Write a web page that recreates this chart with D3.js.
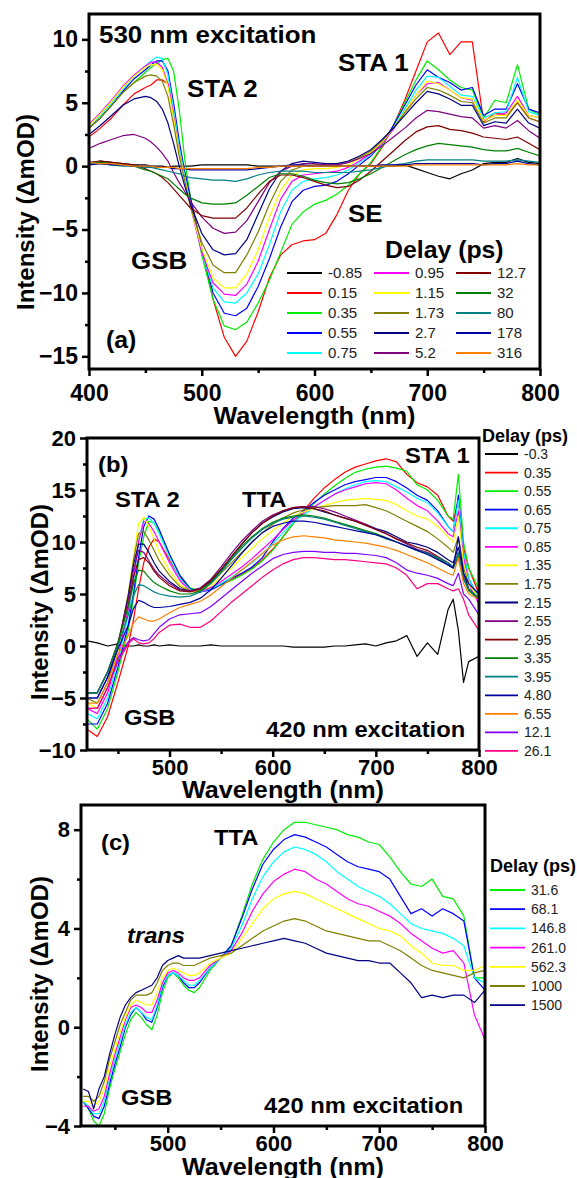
<!DOCTYPE html>
<html>
<head>
<meta charset="utf-8">
<script src="https://cdn.jsdelivr.net/npm/d3@7"></script>
<style>
  body { margin: 0; background: #fff; }
  svg { display: block; }
</style>
</head>
<body>
<script>
// ---- panel (a): 530 nm excitation ----
const wlA = [400, 410, 420, 430, 440, 450, 455, 460, 465, 470, 475, 480, 485, 490,
  500, 510, 520, 530, 540, 550, 560, 570, 580, 590, 600, 610, 620, 630, 640, 650,
  660, 670, 680, 690, 700, 710, 720, 730, 740, 750, 760, 770, 780, 790, 800];
const delaysA = ["-0.85", "0.15", "0.35", "0.55", "0.75", "0.95", "1.15", "1.73",
  "2.7", "5.2", "12.7", "32", "80", "178", "316"];
const colorsA = ["#000000", "#ff0000", "#00ee00", "#0000ff", "#00ffff", "#ff00ff", "#ffff00", "#808000",
  "#000080", "#800080", "#800000", "#008000", "#008080", "#0000a0", "#ff8000"];
const spectraA = [
  [0.2, 0.4, 0.3, 0.2, 0.1, 0.1, 0, 0, 0, -0.1, 0, 0, 0, 0,
    0.1, 0.1, 0.1, 0.1, 0.1, 0, 0, 0, 0, 0, 0, 0, 0, 0, 0, 0, 0, 0, 0.1, -0.2, -0.5, -0.8, -1.0, -0.6, -0.3, 0.2, 0.3, 0.3, 0.6, 0.3, 0.2],
  [2.3, 3.0, 3.8, 4.8, 5.7, 6.2, 6.4, 6.8, 6.8, 6.5, 4.5, 1.5, -0.5, -2.5,
    -6.5, -10.5, -13.5, -15.0, -13.8, -11.5, -8.8, -7.0, -6.2, -5.9, -5.8, -5.3, -3.8, -1.9, -0.6, 0.2, 1.5, 3.2, 5.2, 7.5, 9.8, 10.5, 8.8, 9.8, 9.8, 3.5, 4.2, 4.0, 5.0, 3.8, 3.5],
  [3.0, 3.8, 4.8, 5.8, 6.6, 7.4, 7.8, 8.1, 8.4, 8.5, 7.5, 4.5, 0.5, -2.5,
    -7.0, -10.5, -12.6, -12.9, -12.3, -10.8, -9.0, -6.8, -4.6, -3.6, -3.0, -2.7, -2.2, -1.5, -0.6, 0.3, 1.6, 3.2, 5.0, 6.8, 8.3, 7.6, 6.8, 6.2, 6.0, 3.8, 5.2, 5.0, 8.0, 4.5, 4.0],
  [3.0, 3.8, 4.8, 5.9, 6.9, 7.6, 8.0, 8.3, 8.3, 7.5, 5.0, 2.0, -0.5, -2.5,
    -6.5, -10.0, -11.6, -11.8, -11.2, -9.5, -7.3, -4.8, -2.8, -1.9, -1.6, -1.5, -1.2, -0.6, 0.1, 0.8, 1.8, 3.2, 4.8, 6.4, 7.6, 7.0, 6.6, 6.0, 6.2, 4.0, 4.5, 4.5, 6.5, 4.5, 4.2],
  [3.2, 4.0, 5.0, 6.1, 7.1, 7.9, 8.3, 8.6, 8.5, 7.2, 4.5, 1.5, -0.8, -3.0,
    -6.8, -9.6, -10.7, -10.8, -10.0, -8.5, -6.2, -3.6, -1.9, -1.2, -1.0, -0.9, -0.7, -0.3, 0.3, 0.9, 1.8, 3.0, 4.5, 6.0, 7.1, 7.0, 6.3, 5.6, 5.5, 3.8, 4.2, 4.3, 7.0, 4.3, 4.0],
  [3.3, 4.2, 5.2, 6.3, 7.2, 7.9, 8.2, 8.2, 7.8, 6.5, 4.0, 1.0, -1.0, -3.2,
    -6.8, -9.2, -10.1, -10.2, -9.3, -7.5, -5.0, -2.6, -1.2, -0.7, -0.6, -0.5, -0.4, -0.1, 0.4, 1.0, 1.8, 2.9, 4.3, 5.6, 6.5, 6.6, 6.0, 5.4, 5.2, 3.6, 4.0, 4.2, 5.5, 4.0, 3.8],
  [3.2, 4.1, 5.1, 6.2, 7.1, 7.8, 8.0, 8.0, 7.6, 6.3, 3.8, 1.0, -1.0, -3.2,
    -6.5, -8.8, -9.6, -9.6, -8.5, -6.6, -4.0, -1.9, -0.7, -0.3, -0.2, -0.2, -0.1, 0.1, 0.6, 1.1, 1.9, 3.0, 4.3, 5.6, 6.7, 6.5, 6.0, 5.4, 5.3, 3.6, 4.0, 4.0, 5.2, 4.0, 3.8],
  [3.0, 3.8, 4.8, 5.8, 6.6, 7.1, 7.2, 7.1, 6.7, 5.5, 3.3, 0.8, -1.2, -3.2,
    -6.0, -7.8, -8.4, -8.4, -7.0, -5.2, -3.0, -1.2, -0.3, 0.0, 0.1, 0.1, 0.1, 0.3, 0.7, 1.2, 2.0, 3.0, 4.2, 5.3, 6.2, 6.0, 5.6, 5.1, 5.0, 3.4, 3.8, 3.8, 5.0, 3.8, 3.5],
  [2.5, 3.2, 4.0, 4.8, 5.3, 5.5, 5.4, 5.1, 4.5, 3.4, 1.8, 0.0, -1.6, -3.0,
    -5.3, -6.6, -7.0, -6.9, -5.8, -3.8, -1.8, -0.4, 0.2, 0.4, 0.3, 0.2, 0.2, 0.4, 0.8, 1.3, 2.1, 3.0, 4.0, 5.0, 5.9, 5.7, 5.3, 4.8, 4.8, 3.2, 3.5, 3.4, 4.5, 3.4, 3.0],
  [1.4, 1.8, 2.1, 2.4, 2.5, 2.2, 1.9, 1.5, 1.0, 0.4, -0.5, -1.3, -2.0, -2.8,
    -4.0, -4.9, -5.3, -5.2, -4.3, -2.8, -1.3, -0.4, 0.0, 0.2, 0.2, 0.1, 0.1, 0.3, 0.6, 1.0, 1.6, 2.3, 3.0, 3.8, 4.4, 4.3, 4.1, 3.9, 3.8, 3.0, 3.2, 3.0, 3.6, 2.8, 2.2],
  [0.3, 0.4, 0.3, 0.2, 0.1, -0.2, -0.4, -0.6, -0.9, -1.3, -1.8, -2.3, -2.8, -3.3,
    -3.9, -4.1, -4.1, -4.1, -3.3, -2.2, -1.2, -0.7, -0.7, -0.9, -1.2, -1.5, -1.7, -1.6, -1.1, -0.4, 0.4, 1.2, 2.0, 2.7, 3.1, 3.2, 2.9, 2.8, 2.6, 2.3, 2.2, 2.1, 2.3, 1.8, 1.3],
  [0.3, 0.3, 0.2, 0.1, 0.0, -0.3, -0.4, -0.6, -0.8, -1.0, -1.4, -1.8, -2.2, -2.5,
    -2.9, -3.0, -3.0, -2.9, -2.3, -1.6, -0.9, -0.6, -0.6, -0.8, -1.1, -1.3, -1.4, -1.3, -1.0, -0.6, -0.1, 0.4, 0.9, 1.3, 1.6, 1.8, 1.7, 1.6, 1.5, 1.3, 1.2, 1.2, 1.4, 1.1, 0.8],
  [0.2, 0.2, 0.1, 0.0, 0.0, -0.1, -0.1, -0.2, -0.3, -0.4, -0.5, -0.6, -0.8, -0.9,
    -1.0, -1.1, -1.1, -1.2, -1.0, -0.7, -0.5, -0.4, -0.4, -0.4, -0.5, -0.5, -0.5, -0.5, -0.4, -0.3, -0.1, 0.1, 0.2, 0.4, 0.5, 0.5, 0.5, 0.5, 0.5, 0.4, 0.4, 0.4, 0.5, 0.4, 0.3],
  [0.1, 0.2, 0.1, 0.1, 0.0, 0.0, 0.0, -0.1, -0.1, -0.1, -0.2, -0.2, -0.2, -0.3,
    -0.3, -0.3, -0.3, -0.3, -0.3, -0.2, -0.1, 0.0, 0.1, 0.1, 0.0, 0.0, 0.0, 0.0, 0.0, 0.0, 0.1, 0.1, 0.1, 0.2, 0.2, 0.2, 0.2, 0.2, 0.2, 0.1, 0.2, 0.2, 0.4, 0.2, 0.1],
  [0.3, 0.2, 0.2, 0.1, 0.0, 0.0, 0.0, -0.1, -0.1, -0.1, -0.1, -0.2, -0.2, -0.2,
    -0.2, -0.2, -0.2, -0.2, -0.2, -0.1, -0.1, 0.0, 0.0, 0.0, 0.0, 0.0, 0.0, 0.0, 0.0, 0.0, 0.0, 0.0, 0.0, 0.1, 0.1, 0.1, 0.1, 0.1, 0.1, 0.1, 0.1, 0.1, 0.2, 0.1, 0.1]
];

// ---- panel (b): 420 nm excitation, early delays ----
const wlB = [420, 430, 440, 450, 460, 465, 470, 475, 480, 485, 490,
  500, 510, 520, 530, 540, 550, 560, 570, 580, 590, 600, 610, 620, 630, 640, 650, 660,
  670, 680, 690, 700, 710, 720, 730, 740, 750, 760, 770, 775, 780, 785, 790, 800];
const delaysB = ["-0.3", "0.35", "0.55", "0.65", "0.75", "0.85", "1.35", "1.75", "2.15",
  "2.55", "2.95", "3.35", "3.95", "4.80", "6.55", "12.1", "26.1"];
const colorsB = ["#000000", "#ff0000", "#00ee00", "#0000ff", "#00ffff", "#ff00ff", "#ffff00", "#808000", "#000080",
  "#800080", "#800000", "#008000", "#008080", "#0000a0", "#ff8000", "#8000ff", "#ff0080"];
const spectraB = [
  [0.5, 0.3, 0.0, 0.2, 0.0, 0.0, 0.1, 0.0, 0.0, 0.1, 0.0,
    0.1, 0.0, 0.0, 0.0, 0.1, 0.0, 0.0, 0.0, 0.0, 0.0, 0.0, 0.0, -0.1, -0.1, -0.1, -0.1, 0.0, 0.0, 0.1, 0.2, 0.0, 0.3, 0.5, 1.0, -1.0, 0.3, -0.8, 3.5,
    4.5, 1.5, -3.5, -1.5, -1.0],
  [-8.0, -8.7, -6.8, -3.5, 0.0, 2.5, 5.5, 8.0, 9.5, 10.3, 10.0,
    8.3, 6.6, 5.5, 5.3, 5.6, 6.0, 6.4, 6.9, 7.5, 8.3, 9.3, 10.5, 11.8, 13.0, 14.2, 15.2, 16.0, 16.7, 17.2, 17.5, 17.8, 18.0, 17.7, 16.5, 15.7, 15.3, 14.5, 12.5,
    12.0, 14.0, 9.5, 7.5, 5.0],
  [-7.0, -8.0, -6.0, -2.5, 1.5, 4.5, 8.0, 10.5, 12.0, 11.8, 11.0,
    8.8, 6.8, 5.6, 5.3, 5.5, 5.9, 6.3, 6.8, 7.4, 8.2, 9.2, 10.5, 11.8, 12.8, 13.7, 14.6, 15.4, 16.1, 16.7, 17.0, 17.2, 17.3, 17.1, 16.8, 15.5, 15.0, 14.0, 12.5,
    12.2, 16.5, 10.0, 7.5, 5.5],
  [-7.5, -7.5, -5.5, -2.0, 2.0, 5.0, 8.5, 11.5, 12.5, 12.2, 11.2,
    8.8, 6.8, 5.5, 5.2, 5.4, 5.9, 6.5, 7.0, 7.6, 8.5, 10.0, 11.3, 12.3, 13.0, 13.8, 14.5, 15.0, 15.5, 15.8, 16.0, 16.2, 16.2, 15.8, 15.2, 14.5, 14.0, 13.0, 11.5,
    11.0, 14.5, 9.0, 6.5, 4.5],
  [-6.5, -7.0, -5.0, -1.5, 3.0, 6.0, 10.0, 12.2, 12.3, 11.8, 10.8,
    8.5, 6.5, 5.4, 5.2, 5.5, 6.0, 6.6, 7.3, 8.0, 8.9, 9.8, 10.9, 11.9, 12.6, 13.3, 14.0, 14.6, 15.1, 15.5, 15.8, 15.9, 15.8, 15.3, 14.8, 14.2, 13.8, 12.8, 11.5,
    11.0, 14.0, 9.0, 6.5, 4.5],
  [-6.0, -6.5, -4.5, -1.0, 3.5, 6.5, 10.0, 12.0, 11.8, 11.0, 10.0,
    8.0, 6.3, 5.3, 5.2, 5.6, 6.2, 6.9, 7.6, 8.4, 9.3, 10.2, 11.2, 12.1, 12.8, 13.4, 14.0, 14.6, 15.0, 15.3, 15.6, 15.7, 15.6, 15.0, 14.2, 13.5, 13.0, 12.0, 10.8,
    10.5, 13.0, 8.5, 6.0, 4.0],
  [-5.5, -6.0, -4.0, -0.5, 5.0, 8.5, 11.8, 12.4, 11.5, 10.3, 9.0,
    7.2, 5.9, 5.3, 5.3, 5.8, 6.6, 7.5, 8.5, 9.4, 10.3, 11.1, 11.8, 12.5, 12.9, 13.2, 13.5, 13.8, 14.0, 14.1, 14.2, 14.1, 14.0, 13.6, 13.0, 12.5, 12.2, 11.5, 10.5,
    10.0, 12.5, 8.0, 6.0, 4.5],
  [-5.0, -5.5, -3.5, 0.0, 5.0, 8.2, 10.8, 11.0, 10.2, 9.2, 8.2,
    6.8, 5.7, 5.3, 5.4, 6.0, 7.0, 8.0, 9.0, 10.0, 10.9, 11.7, 12.3, 12.8, 13.1, 13.3, 13.4, 13.5, 13.5, 13.5, 13.6, 13.3, 13.0, 12.5, 12.0, 11.5, 11.0, 10.3, 9.5,
    9.0, 10.5, 7.5, 6.0, 5.0],
  [-5.0, -5.0, -3.0, 0.0, 4.8, 7.8, 9.8, 9.8, 9.0, 8.0, 7.2,
    6.2, 5.5, 5.3, 5.5, 6.2, 7.3, 8.6, 9.8, 10.9, 11.8, 12.4, 12.9, 13.2, 13.3, 13.2, 12.9, 12.6, 12.3, 12.0, 11.7, 11.3, 11.0, 10.5, 10.0, 9.8, 9.5, 9.0, 8.3,
    8.0, 9.5, 7.0, 5.5, 4.5],
  [-4.5, -4.5, -2.5, 0.3, 4.5, 7.3, 9.2, 9.0, 8.2, 7.4, 6.8,
    6.0, 5.4, 5.3, 5.6, 6.4, 7.6, 8.9, 10.1, 11.1, 12.0, 12.6, 13.0, 13.3, 13.4, 13.4, 13.2, 12.9, 12.5, 12.1, 11.7, 11.2, 10.8, 10.3, 9.8, 9.3, 9.0, 8.5, 7.8,
    7.5, 8.5, 6.5, 5.5, 4.5],
  [-4.5, -4.5, -2.5, 0.3, 4.0, 6.6, 8.3, 8.5, 8.0, 7.2, 6.6,
    5.8, 5.3, 5.2, 5.5, 6.3, 7.4, 8.6, 9.8, 10.9, 11.8, 12.5, 13.0, 13.3, 13.4, 13.2, 13.0, 12.6, 12.3, 12.0, 11.6, 11.2, 10.8, 10.3, 9.9, 9.5, 9.2, 8.6, 8.0,
    7.6, 9.0, 6.5, 5.5, 4.5],
  [-4.5, -4.5, -2.5, 0.3, 3.8, 6.0, 7.3, 7.2, 6.6, 6.1, 5.8,
    5.3, 5.0, 5.0, 5.3, 6.1, 7.2, 8.4, 9.6, 10.5, 11.3, 11.9, 12.3, 12.5, 12.6, 12.5, 12.3, 12.0, 11.7, 11.4, 11.1, 10.8, 10.4, 10.0, 9.6, 9.2, 8.9, 8.4, 7.8,
    7.5, 8.8, 6.5, 5.3, 4.5],
  [-4.5, -4.5, -2.5, 0.0, 3.0, 4.8, 5.9, 5.8, 5.5, 5.2, 5.0,
    4.8, 4.7, 4.8, 5.2, 6.0, 7.1, 8.3, 9.4, 10.4, 11.2, 11.8, 12.2, 12.4, 12.5, 12.4, 12.2, 11.9, 11.6, 11.3, 11.0, 10.7, 10.3, 10.0, 9.6, 9.2, 8.9, 8.5, 8.0,
    7.6, 9.0, 6.5, 5.5, 4.5],
  [-5.0, -5.0, -3.0, -0.3, 2.0, 3.6, 4.4, 4.2, 3.9, 3.7, 3.7,
    3.8, 4.0, 4.2, 4.6, 5.4, 6.5, 7.7, 8.9, 10.0, 10.9, 11.5, 11.8, 12.0, 12.0, 11.9, 11.7, 11.5, 11.3, 11.1, 10.9, 10.7, 10.4, 10.0, 9.6, 9.2, 8.8, 8.3, 7.8,
    7.5, 10.5, 7.0, 6.0, 5.0],
  [-5.5, -5.5, -3.5, -0.8, 1.0, 2.2, 2.8, 2.6, 2.4, 2.4, 2.6,
    3.2, 3.7, 4.0, 4.3, 4.9, 5.7, 6.5, 7.3, 8.1, 8.9, 9.7, 10.2, 10.5, 10.6, 10.5, 10.4, 10.2, 10.1, 10.0, 9.9, 9.7, 9.5, 9.2, 8.8, 8.4, 8.0, 7.5, 7.0,
    6.8, 8.5, 6.0, 5.0, 4.5],
  [-6.0, -6.0, -4.0, -1.2, 0.4, 0.8, 0.6, 0.5, 0.6, 1.2, 1.8,
    2.6, 3.0, 3.1, 3.2, 3.8, 4.6, 5.4, 6.2, 7.0, 7.7, 8.4, 8.8, 9.0, 9.1, 9.1, 9.0, 9.0, 8.9, 8.9, 8.8, 8.7, 8.5, 8.0, 7.3, 7.0, 6.8, 6.5, 6.0,
    5.8, 7.0, 5.0, 4.5, 3.0],
  [-6.0, -6.0, -4.0, -1.5, 0.2, 0.7, 0.3, 0.2, 0.3, 0.7, 1.3,
    2.0, 2.1, 1.8, 1.8, 2.4, 3.3, 4.2, 5.0, 5.8, 6.6, 7.3, 7.9, 8.3, 8.5, 8.5, 8.4, 8.3, 8.3, 8.2, 8.1, 8.0, 7.9, 7.5, 6.8, 5.5, 6.0, 6.0, 5.5,
    5.3, 5.5, 4.5, 3.0, 1.5]
];

// ---- panel (c): 420 nm excitation, late delays ----
const wlC = [420, 425, 430, 435, 440, 445, 450, 455, 460, 465, 470, 475, 480, 485, 490,
  495, 500, 505, 510, 515, 520, 525, 530, 540, 550, 560, 570, 580, 590, 600, 610, 620,
  630, 640, 650, 660, 670, 680, 690, 700, 710, 720, 730, 740, 750, 760, 770, 780, 790, 800];
const delaysC = ["31.6", "68.1", "146.8", "261.0", "562.3", "1000", "1500"];
const colorsC = ["#00ee00", "#0000ff", "#00ffff", "#ff00ff", "#ffff00", "#808000", "#000080"];
const spectraC = [
  [-3.0, -3.3, -3.8, -4.0, -3.5, -2.5, -1.7, -1.0, -0.3, 0.3, 0.6, 0.4, 0.1, -0.1, 0.5, 1.4, 2.0, 2.2, 2.0, 1.7, 1.5, 1.4, 1.6,
    2.3, 2.8, 3.3, 4.5, 5.8, 6.8, 7.5, 8.0, 8.3, 8.3, 8.2, 8.1, 8.0, 7.8, 7.7, 7.5, 7.4, 6.9, 6.3, 5.8, 5.7, 6.0, 5.3, 5.2, 4.5, 2.0, 2.0],
  [-3.0, -3.3, -3.6, -3.7, -3.2, -2.3, -1.5, -0.8, 0.0, 0.5, 0.8, 0.6, 0.3, 0.2, 0.8, 1.6, 2.1, 2.2, 2.1, 1.8, 1.6, 1.6, 1.8,
    2.4, 2.8, 3.3, 4.4, 5.6, 6.6, 7.2, 7.6, 7.8, 7.7, 7.5, 7.3, 7.0, 6.7, 6.5, 6.4, 6.3, 6.0, 5.3, 4.6, 4.8, 4.5, 4.8, 4.6, 4.3, 2.0, 1.5],
  [-3.0, -3.2, -3.5, -3.5, -3.0, -2.1, -1.3, -0.6, 0.1, 0.6, 0.8, 0.6, 0.4, 0.3, 0.9, 1.7, 2.1, 2.2, 2.1, 1.9, 1.7, 1.7, 1.9,
    2.4, 2.8, 3.2, 4.1, 5.2, 6.1, 6.7, 7.1, 7.3, 7.2, 7.0, 6.7, 6.3, 6.0, 5.7, 5.5, 5.3, 5.0, 4.6, 4.2, 4.0, 3.9, 3.8, 3.6, 3.3, 2.0, 1.8],
  [-3.2, -3.2, -3.4, -3.3, -2.8, -1.9, -1.1, -0.4, 0.3, 0.8, 0.9, 0.8, 0.6, 0.6, 1.1, 1.8, 2.2, 2.3, 2.2, 2.0, 1.9, 1.9, 2.0,
    2.5, 2.8, 3.1, 3.8, 4.7, 5.4, 5.9, 6.2, 6.4, 6.3, 6.0, 5.8, 5.5, 5.2, 5.0, 4.9, 4.7, 4.5, 4.2, 3.8, 3.5, 3.2, 3.0, 3.1, 2.6, 0.5, -0.5],
  [-3.0, -3.0, -3.2, -3.0, -2.5, -1.6, -0.9, -0.2, 0.4, 0.9, 1.1, 1.0, 0.9, 0.9, 1.4, 2.0, 2.3, 2.4, 2.3, 2.2, 2.1, 2.1, 2.2,
    2.6, 2.8, 3.0, 3.6, 4.2, 4.8, 5.2, 5.4, 5.5, 5.4, 5.2, 5.0, 4.8, 4.6, 4.4, 4.2, 4.0, 3.9, 3.7, 3.3, 3.0, 2.6, 2.5, 2.5, 2.3, 2.3, 2.5],
  [-2.8, -2.8, -3.0, -2.8, -2.2, -1.3, -0.6, 0.1, 0.6, 1.1, 1.3, 1.3, 1.3, 1.4, 1.8, 2.3, 2.5, 2.6, 2.6, 2.5, 2.5, 2.5, 2.6,
    2.8, 2.9, 3.0, 3.3, 3.6, 3.9, 4.1, 4.3, 4.4, 4.3, 4.1, 3.9, 3.8, 3.7, 3.6, 3.5, 3.5, 3.3, 3.1, 2.8, 2.5, 2.3, 2.2, 2.1, 2.0, 2.2, 2.3],
  [-2.5, -2.6, -3.3, -2.5, -2.0, -1.1, -0.3, 0.4, 0.9, 1.2, 1.4, 1.5, 1.6, 1.7, 2.0, 2.5, 2.7, 2.8, 2.9, 2.8, 2.8, 2.8, 2.8,
    2.9, 3.0, 3.1, 3.2, 3.3, 3.4, 3.5, 3.6, 3.5, 3.4, 3.2, 3.0, 2.9, 2.8, 2.7, 2.7, 2.6, 2.6, 2.2, 1.8, 1.2, 1.3, 1.2, 1.3, 1.3, 1.0, 1.5]
];

const FONT = "'Liberation Sans', Arial, sans-serif";

const svg = d3.select("body").append("svg")
  .attr("width", 577)
  .attr("height", 1178)
  .style("background", "#fff");

// bold labels in the figure are a bit wider than Liberation Sans, so stretch them slightly
const addText = (txt, x, y, size, opts = {}) =>
  svg.append("text")
    .attr("transform", `translate(${x},${y}) scale(${opts.sx || 1.08},1)`)
    .attr("font-family", FONT)
    .attr("font-size", size)
    .attr("font-weight", opts.weight || "bold")
    .attr("font-style", opts.italic ? "italic" : "normal")
    .attr("text-anchor", opts.anchor || "start")
    .attr("fill", "#000")
    .text(txt);

const drawPanel = (p) => {
  const x = d3.scaleLinear().domain(p.xDomain).range([p.left, p.right]);
  const y = d3.scaleLinear().domain(p.yDomain).range([p.bottom, p.top]);

  svg.append("clipPath").attr("id", "clip-" + p.id)
    .append("rect")
    .attr("x", p.left).attr("y", p.top)
    .attr("width", p.right - p.left).attr("height", p.bottom - p.top);

  const line = d3.line()
    .defined((d, i) => i < p.wl.length && d != null)
    .x((d, i) => x(p.wl[i]))
    .y((d) => y(d));

  svg.append("g")
    .attr("clip-path", `url(#clip-${p.id})`)
    .selectAll("path")
    .data(p.spectra)
    .join("path")
    .attr("fill", "none")
    .attr("stroke", (d, i) => p.colors[i])
    .attr("stroke-width", 1.2)
    .attr("stroke-linejoin", "round")
    .attr("d", line);

  const axes = svg.append("g");

  // minor ticks
  axes.append("g")
    .attr("transform", `translate(0,${p.bottom})`)
    .call(d3.axisBottom(x).tickValues(p.xMinor).tickSize(4).tickSizeOuter(0).tickFormat(""));
  axes.append("g")
    .attr("transform", `translate(${p.left},0)`)
    .call(d3.axisLeft(y).tickValues(p.yMinor).tickSize(4).tickSizeOuter(0).tickFormat(""));

  // major ticks + labels
  const xg = axes.append("g")
    .attr("transform", `translate(0,${p.bottom})`)
    .call(d3.axisBottom(x).tickValues(p.xTicks).tickSize(7).tickSizeOuter(0).tickFormat(d3.format("d")));
  xg.selectAll("text").attr("y", p.xLabelDy).attr("dy", 0);

  const yg = axes.append("g")
    .attr("transform", `translate(${p.left},0)`)
    .call(d3.axisLeft(y).tickValues(p.yTicks).tickSize(7).tickSizeOuter(0).tickFormat(d3.format("d")));
  yg.selectAll("text").attr("x", -11);

  axes.selectAll(".domain").remove();
  axes.selectAll(".tick line").attr("stroke", "#000").attr("stroke-width", 2.5);
  axes.selectAll(".tick text")
    .attr("font-family", FONT)
    .attr("font-size", p.tickFont)
    .attr("font-weight", "bold")
    .attr("fill", "#000");

  svg.append("rect")
    .attr("x", p.left).attr("y", p.top)
    .attr("width", p.right - p.left).attr("height", p.bottom - p.top)
    .attr("fill", "none")
    .attr("stroke", "#000")
    .attr("stroke-width", 3);

  addText("Wavelength (nm)", (p.left + p.right) / 2, p.xTitleY, 24, { anchor: "middle", sx: 1.05 });
  svg.append("text")
    .attr("transform", `translate(${p.yTitleX},${p.yTitleY}) rotate(-90)`)
    .attr("font-family", FONT)
    .attr("font-size", 24)
    .attr("font-weight", "bold")
    .attr("text-anchor", "middle")
    .text("Intensity (ΔmOD)");
};

const drawLegend = (labels, colors, rowOf, colX, lineLen, size) => {
  const items = svg.append("g").selectAll("g")
    .data(labels)
    .join("g")
    .attr("transform", (d, i) => `translate(${colX(i)},${rowOf(i)})`);
  items.append("line")
    .attr("x1", 0).attr("x2", lineLen)
    .attr("stroke", (d, i) => colors[i])
    .attr("stroke-width", 1.8);
  items.append("text")
    .attr("x", lineLen + 6)
    .attr("dy", "0.36em")
    .attr("font-family", FONT)
    .attr("font-size", size)
    .attr("fill", "#222")
    .text((d) => d);
};

// (a)
drawPanel({
  id: "a", wl: wlA, spectra: spectraA, colors: colorsA,
  left: 89, right: 540, top: 14, bottom: 369,
  xDomain: [400, 800], yDomain: [-16, 12],
  xTicks: [400, 500, 600, 700, 800], xMinor: [450, 550, 650, 750],
  yTicks: [-15, -10, -5, 0, 5, 10], yMinor: [-12.5, -7.5, -2.5, 2.5, 7.5],
  tickFont: 23, xLabelDy: 32, xTitleY: 424, yTitleX: 34, yTitleY: 212
});
addText("530 nm excitation", 99, 43, 24);
addText("STA 1", 338, 71, 24);
addText("STA 2", 187, 97, 24);
addText("SE", 348, 222, 24);
addText("GSB", 131, 269, 24);
addText("Delay (ps)", 385, 258, 23);
addText("(a)", 106, 348, 23);
drawLegend(delaysA, colorsA,
  (i) => 273 + 20 * (i % 5),
  (i) => [287, 374, 456][Math.floor(i / 5)], 35, 15);

// (b)
drawPanel({
  id: "b", wl: wlB, spectra: spectraB, colors: colorsB,
  left: 87, right: 479, top: 438, bottom: 750,
  xDomain: [420, 800], yDomain: [-10, 20],
  xTicks: [500, 600, 700, 800], xMinor: [450, 550, 650, 750],
  yTicks: [-10, -5, 0, 5, 10, 15, 20], yMinor: [-7.5, -2.5, 2.5, 7.5, 12.5, 17.5],
  tickFont: 22, xLabelDy: 25, xTitleY: 798, yTitleX: 48, yTitleY: 602
});
addText("(b)", 98, 472, 22);
addText("STA 2", 115, 507, 22);
addText("TTA", 242, 507, 22);
addText("STA 1", 405, 463, 22);
addText("GSB", 124, 725, 22);
addText("420 nm excitation", 266, 737, 22);
addText("Delay (ps)", 482, 442, 18, { sx: 1 });
drawLegend(delaysB, colorsB, (i) => 454 + 18.56 * i, () => 485, 33, 14);

// (c)
drawPanel({
  id: "c", wl: wlC, spectra: spectraC, colors: colorsC,
  left: 81, right: 485, top: 805, bottom: 1126,
  xDomain: [418, 800], yDomain: [-4, 9],
  xTicks: [500, 600, 700, 800], xMinor: [450, 550, 650, 750],
  yTicks: [-4, 0, 4, 8], yMinor: [-2, 2, 6],
  tickFont: 22, xLabelDy: 25, xTitleY: 1175, yTitleX: 48, yTitleY: 974
});
addText("(c)", 101, 850, 22);
addText("TTA", 214, 845, 22);
addText("trans", 127, 943, 22, { italic: true });
addText("GSB", 121, 1105, 22);
addText("420 nm excitation", 264, 1113, 22);
addText("Delay (ps)", 490, 872, 18, { sx: 1 });
drawLegend(delaysC, colorsC, (i) => 890 + 19.2 * i, () => 490, 35, 14);
</script>
</body>
</html>
